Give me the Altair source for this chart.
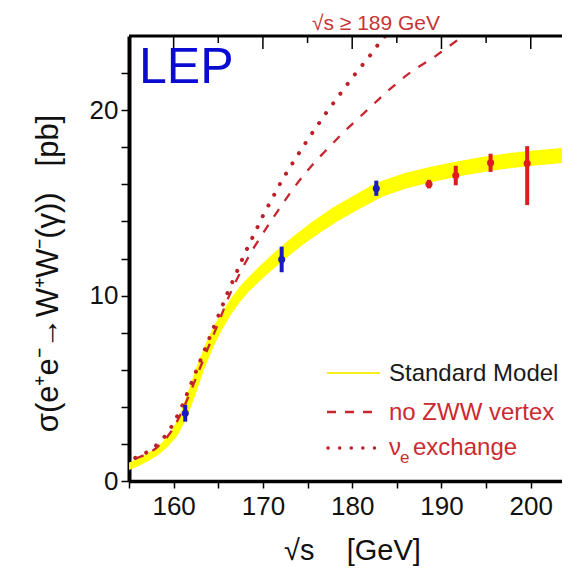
import altair as alt
import pandas as pd

# ---------------- data ----------------
# Standard Model band: centre (pb) and visual thickness (px)
sm_x = [155, 156, 157, 158, 159, 160, 161, 162, 163, 164, 165, 166, 167, 168,
        170, 172, 174, 176, 178, 180, 183, 186, 189, 192, 195, 198, 201, 204]
sm_y = [0.8, 1.0, 1.25, 1.55, 1.95, 2.5, 3.4, 4.7, 6.1, 7.3, 8.3, 9.1, 9.8, 10.4,
        11.35, 12.2, 13.0, 13.7, 14.35, 14.9, 15.7, 16.2, 16.55, 16.85, 17.1, 17.3, 17.45, 17.57]
sm_w = [7, 7, 7, 7, 7, 7.5, 7.5, 8, 8, 8.5, 9, 9, 9.5, 10,
        11, 12, 12.5, 13.5, 14, 14.5, 15, 15, 15, 15, 15, 15, 15, 15]

# no ZWW vertex (dashed)
zww_x = [155.7, 157, 158, 159, 160, 161, 162, 163, 164, 165, 166, 167, 168, 169, 170,
         171, 172, 173, 174, 175, 176, 177, 178, 179, 180, 181, 182, 183, 184, 185,
         186, 187, 188, 189, 190, 191, 192, 192.5]
zww_y = [1.2, 1.45, 1.75, 2.2, 2.85, 3.8, 4.95, 6.15, 7.35, 8.5, 9.75, 10.8, 11.75, 12.6, 13.35,
         14.1, 14.8, 15.5, 16.15, 16.75, 17.3, 17.8, 18.3, 18.8, 19.25, 19.7, 20.15, 20.6, 21.05, 21.45,
         21.85, 22.2, 22.5, 22.8, 23.15, 23.5, 23.85, 24.0]

# nu_e exchange only (dotted)
nue_x = [155.7, 157, 158, 159, 160, 161, 162, 163, 164, 165, 166, 167, 168, 169, 170,
         171, 172, 173, 174, 175, 176, 177, 178, 179, 180, 181, 182, 183, 183.7]
nue_y = [1.25, 1.55, 1.9, 2.4, 3.1, 4.1, 5.3, 6.5, 7.7, 8.9, 10.1, 11.2, 12.3, 13.3, 14.3,
         15.2, 16.1, 16.9, 17.65, 18.4, 19.1, 19.8, 20.45, 21.1, 21.75, 22.35, 22.95, 23.6, 24.0]

# measurements
pt_x = [161.3, 172.1, 182.7, 188.6, 191.6, 195.5, 199.6]
pt_y = [3.65, 11.95, 15.78, 16.01, 16.48, 17.16, 17.13]
pt_lo = [3.2, 11.26, 15.38, 15.78, 15.95, 16.67, 14.88]
pt_hi = [4.1, 12.64, 16.2, 16.24, 17.0, 17.65, 18.06]
pt_set = ["blue", "blue", "blue", "red", "red", "red", "red"]

# axis ticks
x_ticks = [155, 160, 165, 170, 175, 180, 185, 190, 195, 200]
y_ticks = [0, 2, 4, 6, 8, 10, 12, 14, 16, 18, 20, 22]
top_major = [160, 170, 180, 190, 200]
top_minor = [165, 175, 185, 195]

legend_labels = ["Standard Model", "no ZWW vertex", "exchange"]

# ---------------- chart ----------------
W, H = 433, 445
FONT = "Liberation Sans"
XDOM = [155, 203.5]
YDOM = [0, 24]
RED = "#c8262e"
YELLOW = "#ffff00"

sm_df = pd.DataFrame({"x": sm_x, "y": sm_y, "w": sm_w})
zww_df = pd.DataFrame({"x": zww_x, "y": zww_y})
nue_df = pd.DataFrame({"x": nue_x, "y": nue_y})
pt_df = pd.DataFrame({"x": pt_x, "y": pt_y, "lo": pt_lo, "hi": pt_hi, "set": pt_set})

xs = alt.Scale(domain=XDOM, nice=False, zero=False)
ys = alt.Scale(domain=YDOM, nice=False, zero=False)

x_axis = alt.Axis(
    values=x_ticks, labelExpr="datum.value % 10 == 0 ? datum.label : ''",
    tickSize=7, tickWidth=1.5, tickColor="black", labelPadding=5,
    domainWidth=3.5, domainColor="black", labelFont=FONT, labelFontSize=26,
    labelColor="#111111", grid=False, labelFlush=False,
    title="√s\u00a0\u00a0\u00a0\u00a0[GeV]", titleFont=FONT, titleFontSize=29,
    titleFontWeight="normal", titleColor="#111111", titleX=223, titleY=78,
    titleAlign="center", titleBaseline="alphabetic")
y_axis = alt.Axis(
    values=y_ticks, labelExpr="datum.value % 10 == 0 ? datum.label : ''",
    tickSize=8, tickWidth=1.5, tickColor="black", labelPadding=3,
    domainWidth=4, domainColor="black", labelFont=FONT, labelFontSize=26,
    labelColor="#111111", grid=False, labelFlush=False,
    title="σ(e⁺e⁻→W⁺W⁻(γ))\u00a0\u00a0\u00a0[pb]", titleFont=FONT, titleFontSize=31,
    titleFontWeight="normal", titleColor="#111111", titleX=-81, titleY=237,
    titleAlign="center", titleBaseline="middle", titleAngle=270)

sm = alt.Chart(sm_df).mark_trail(color=YELLOW, clip=True).encode(
    x=alt.X("x:Q", scale=xs, axis=x_axis),
    y=alt.Y("y:Q", scale=ys, axis=y_axis),
    size=alt.Size("w:Q", scale=None, legend=None),
)

zww = alt.Chart(zww_df).mark_line(color=RED, strokeDash=[9, 10], strokeWidth=2.3, clip=True).encode(
    x=alt.X("x:Q", scale=xs), y=alt.Y("y:Q", scale=ys))
nue = alt.Chart(nue_df).mark_line(color="#bd2029", strokeDash=[0.1, 12], strokeCap="round",
                                  strokeWidth=4, clip=True).encode(
    x=alt.X("x:Q", scale=xs), y=alt.Y("y:Q", scale=ys))

pcol = alt.Color("set:N", scale=alt.Scale(domain=["blue", "red"], range=["#1a1ac4", "#de1c22"]), legend=None)
bars = alt.Chart(pt_df).mark_rule(strokeWidth=4).encode(
    x=alt.X("x:Q", scale=xs), y=alt.Y("lo:Q", scale=ys), y2="hi:Q", color=pcol)
pts = alt.Chart(pt_df).mark_point(filled=True, shape="circle", size=50, opacity=1).encode(
    x=alt.X("x:Q", scale=xs), y=alt.Y("y:Q", scale=ys), color=pcol)

# top frame with inward ticks
top_major_rules = alt.Chart(pd.DataFrame({"v": top_major})).mark_rule(color="black", strokeWidth=1.5).encode(
    x=alt.X("v:Q", scale=xs), y=alt.value(0), y2=alt.value(13))
top_minor_rules = alt.Chart(pd.DataFrame({"v": top_minor})).mark_rule(color="black", strokeWidth=1.5).encode(
    x=alt.X("v:Q", scale=xs), y=alt.value(0), y2=alt.value(7))
top_frame = alt.Chart(pd.DataFrame({"k": [0]})).mark_rule(color="black", strokeWidth=3).encode(
    x=alt.value(0), x2=alt.value(W), y=alt.value(0))

# annotations
def label(text, x, y, size, color, align="left", baseline="alphabetic"):
    return alt.Chart(pd.DataFrame({"t": [text]})).mark_text(
        font=FONT, fontSize=size, color=color, align=align, baseline=baseline).encode(
        text="t:N", x=alt.value(x), y=alt.value(y))

lep = label("LEP", 10, 47, 50, "#0a0ad0")
top_note = label("√s ≥ 189 GeV", 247, -6, 21, "#c83434", align="center")

leg_sm_line = alt.Chart(pd.DataFrame({"k": [0]})).mark_rule(color="#f5ee1a", strokeWidth=2).encode(
    x=alt.value(198), x2=alt.value(251), y=alt.value(337))
leg_zww_line = alt.Chart(pd.DataFrame({"k": [0]})).mark_rule(color=RED, strokeWidth=2.5, strokeDash=[9, 9]).encode(
    x=alt.value(198), x2=alt.value(251), y=alt.value(376))
leg_nue_line = alt.Chart(pd.DataFrame({"k": [0]})).mark_rule(color="#bd2029", strokeWidth=3.5,
                                                             strokeDash=[0.1, 11.5], strokeCap="round").encode(
    x=alt.value(199), x2=alt.value(252), y=alt.value(412))
leg_t1 = label(legend_labels[0], 260, 345, 24, "#1a1a1a")
leg_t2 = label(legend_labels[1], 260, 384, 24, "#cc2a30")
leg_nu = label("ν", 260, 419, 24, "#cc2a30")
leg_e = label("e", 271, 427, 17, "#cc2a30")
leg_t3 = label(legend_labels[2], 284, 419, 24, "#cc2a30")

chart = alt.layer(
    sm, zww, nue, bars, pts, top_major_rules, top_minor_rules, top_frame,
    lep, top_note, leg_sm_line, leg_zww_line, leg_nue_line,
    leg_t1, leg_t2, leg_nu, leg_e, leg_t3,
).properties(
    width=W, height=H,
    autosize=alt.AutoSizeParams(type="none"),
    padding={"left": 121, "top": 28, "right": 0, "bottom": 87},
).configure_view(stroke=None).configure(background="white")

chart.save("out.html", embed_options={"renderer": "svg", "actions": False})
